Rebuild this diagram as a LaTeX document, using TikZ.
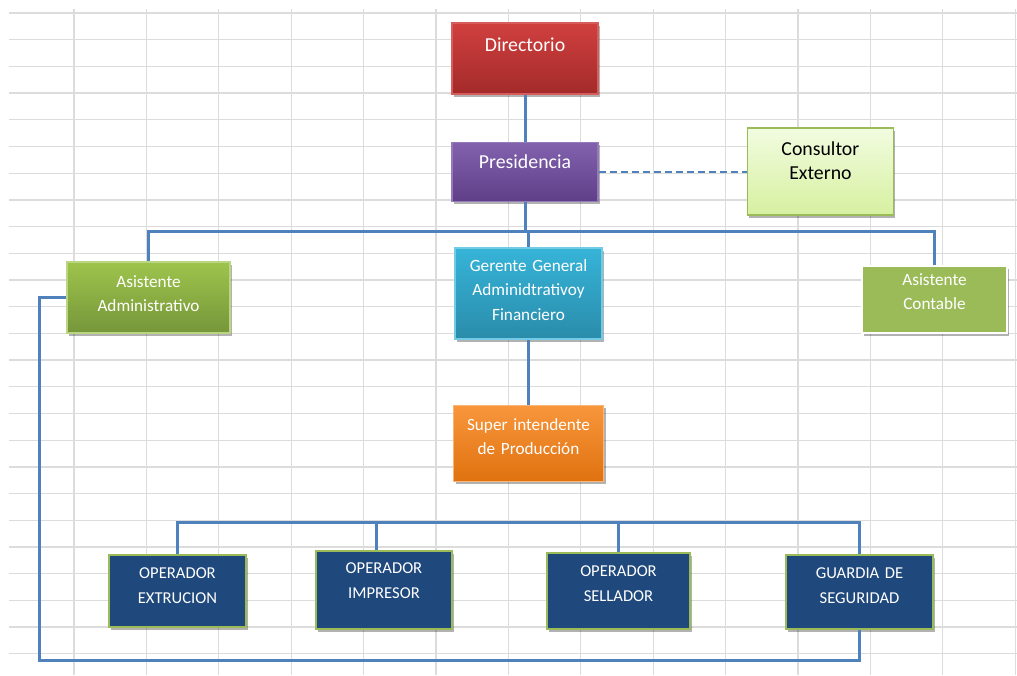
\documentclass[tikz,border=0pt]{standalone}
\usepackage{fontspec}
\setmainfont{Carlito}
\usetikzlibrary{positioning,shadows}
\definecolor{orgblue}{RGB}{79,129,189}
\definecolor{orggrid}{RGB}{220,220,220}
\definecolor{orgredtop}{RGB}{208,64,63}
\definecolor{orgredbot}{RGB}{163,42,42}
\definecolor{orgpurtop}{RGB}{130,98,174}
\definecolor{orgpurbot}{RGB}{95,63,135}
\definecolor{orglimetop}{RGB}{242,252,224}
\definecolor{orglimebot}{RGB}{214,240,160}
\definecolor{orggreen}{RGB}{155,187,89}
\definecolor{orggreentop}{RGB}{158,196,76}
\definecolor{orggreenbot}{RGB}{118,150,58}
\definecolor{orgcyantop}{RGB}{54,180,216}
\definecolor{orgcyanbot}{RGB}{42,140,171}
\definecolor{orgorangetop}{RGB}{248,150,60}
\definecolor{orgorangebot}{RGB}{224,114,15}
\definecolor{orgnavy}{RGB}{31,72,124}
\tikzset{
    orgbox/.style={draw, rectangle, align=center, inner sep=0pt, text=white,
        line width=1.2pt,
        drop shadow={shadow xshift=2pt, shadow yshift=-2.5pt, opacity=0.3, fill=black}},
    lift/.style={execute at end node={\par\vspace*{#1}}},
    bigtext/.style={font=\fontsize{19.8}{24}\selectfont},
    smalltext/.style={font=\fontsize{17.2}{24.5}\selectfont},
    optext/.style={font=\fontsize{16.6}{25}\selectfont},
    opbox/.style={orgbox, optext, fill=orgnavy, draw=orggreen},
    orgline/.style={draw=orgblue, line width=3pt},
    orgdash/.style={draw=orgblue, line width=2pt, dash pattern=on 7pt off 4pt},
    gridline/.style={draw=orggrid, line width=1.3pt}
}

\begin{document}
\begin{tikzpicture}[x=1pt, y=-1pt]
    \useasboundingbox (0,0) rectangle (1017,675);
    % sheet grid behind the chart
    \foreach \k in {0,...,24}
        \draw[gridline] (9,13+26.7*\k) -- (1017,13+26.7*\k);
    \foreach \k in {0,...,13}
        \draw[gridline] (74+72.4*\k,9) -- (74+72.4*\k,675);

    \node[orgbox, bigtext, lift=27pt, text width=146pt, minimum height=71pt,
        top color=orgredtop, bottom color=orgredbot, draw=orgredtop!85!white]
        (dir) at (525,58.5) {Directorio};
    \node[orgbox, bigtext, lift=21pt, text width=146pt, minimum height=59pt,
        top color=orgpurtop, bottom color=orgpurbot, draw=orgpurtop!85!white,
        below=47pt of dir] (pres) {Presidencia};
    \node[orgbox, bigtext, lift=22pt, text width=146pt, minimum height=87pt,
        text=black, top color=orglimetop, bottom color=orglimebot, draw=orggreen,
        line width=1.6pt, right=148pt of pres] (cons) {Consultor\\Externo};

    \node[orgbox, smalltext, lift=8pt, text width=163pt, minimum height=71pt,
        top color=orggreentop, bottom color=orggreenbot, draw=orggreentop!70!white]
        (asadm) at (148.5,297.5) {Asistente\\Administrativo};
    \node[orgbox, smalltext, lift=7pt, text width=147pt, minimum height=91pt,
        top color=orgcyantop, bottom color=orgcyanbot, draw=orgcyantop!70!white]
        (ger) at (528.5,293.5) {Gerente General\\Adminidtrativoy\\Financiero};
    \node[orgbox, smalltext, lift=16pt, text width=145pt, minimum height=67pt,
        fill=orggreen, draw=white, line width=2.5pt]
        (ascon) at (934.5,299.5) {Asistente\\Contable};
    \node[orgbox, smalltext, lift=13pt, text width=150pt, minimum height=76pt,
        top color=orgorangetop, bottom color=orgorangebot, draw=orgorangetop!70!white,
        below=65pt of ger] (sup) {Super intendente\\de Producción};

    \node[opbox, lift=11pt, text width=137pt, minimum height=72pt]
        (opext) at (177.5,591) {OPERADOR\\EXTRUCION};
    \node[opbox, lift=19pt, text width=136pt, minimum height=78pt]
        (opimp) at (384,590) {OPERADOR\\IMPRESOR};
    \node[opbox, lift=15pt, text width=143pt, minimum height=76pt]
        (opsel) at (618.5,591) {OPERADOR\\SELLADOR};
    \node[opbox, lift=13pt, text width=147pt, minimum height=74pt]
        (guard) at (859.5,592) {GUARDIA DE\\SEGURIDAD};

    \coordinate (bus) at (525,231);
    \coordinate (opbus) at (376,522);
    \coordinate (loop) at (39,660);

    \draw[orgline] (dir) -- (pres);
    \draw[orgdash] (pres) -- (cons);
    \draw[orgline] (pres) -- (bus) -| (asadm);
    \draw[orgline] (bus) -| (ascon);
    \draw[orgline] (bus) -| (ger);
    \draw[orgline] (ger) -- (sup);
    \draw[orgline] (opext) |- (opbus) -| (guard);
    \draw[orgline] (opbus) -- (opbus |- opimp.north);
    \draw[orgline] (opsel) -- (opsel |- opbus);
    \draw[orgline] (asadm.west) -| (loop) -| (guard.south);
\end{tikzpicture}
\end{document}
